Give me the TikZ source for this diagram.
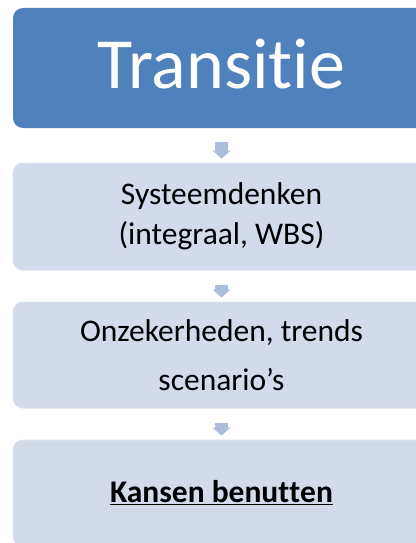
\documentclass[tikz,border=0pt]{standalone}
\usepackage{fontspec}
\setmainfont{Carlito}[Ligatures={NoCommon,NoContextual,NoRequired,NoRare},Contextuals=NoAlternate]
\usetikzlibrary{arrows.meta}

\definecolor{titleblue}{RGB}{79,129,189}
\definecolor{stepfill}{RGB}{211,218,234}
\definecolor{stepedge}{RGB}{220,226,240}
\definecolor{arrowfill}{RGB}{173,190,220}

\begin{document}
\begin{tikzpicture}[x=1pt,y=1pt]
        \tikzset{title box/.style={rectangle,rounded corners=10pt,fill=titleblue,text=white,minimum width=417pt,minimum height=120pt,inner sep=0pt,text depth=9pt,font=\fontsize{72}{86}\selectfont},
                 step box/.style={rectangle,rounded corners=10pt,fill=stepfill,draw=stepedge,line width=1pt,minimum width=417pt,minimum height=#1,inner sep=0pt,align=center},
                 flow arrow/.style={draw=arrowfill,line width=13pt,-{Triangle[width=18pt,length=8pt]},shorten <=14pt,shorten >=4pt}}
        \useasboundingbox (0,0) rectangle (415,-543);

        \node[title box] (transitie) at (221.5,-68) {Transit\kern0pt ie};% no ti ligature
        \node[step box=107pt,font=\fontsize{31.5}{40}\selectfont] (systeem) at (221.5,-216.5) {Systeemdenken\\(integraal, WBS)};
        \node[step box=106pt,font=\fontsize{31.5}{49}\selectfont] (onzeker) at (221.5,-355) {Onzekerheden, trends\\scenario’s};
        \node[step box=106pt,font=\fontsize{31.5}{40}\selectfont] (kansen) at (221.5,-493) {\underline{\textbf{Kansen benut\kern0pt t\kern0pt en}}};

        \draw[flow arrow] (transitie) -- (systeem);
        \draw[flow arrow] (systeem) -- (onzeker);
        \draw[flow arrow] (onzeker) -- (kansen);
    \end{tikzpicture}
\end{document}
